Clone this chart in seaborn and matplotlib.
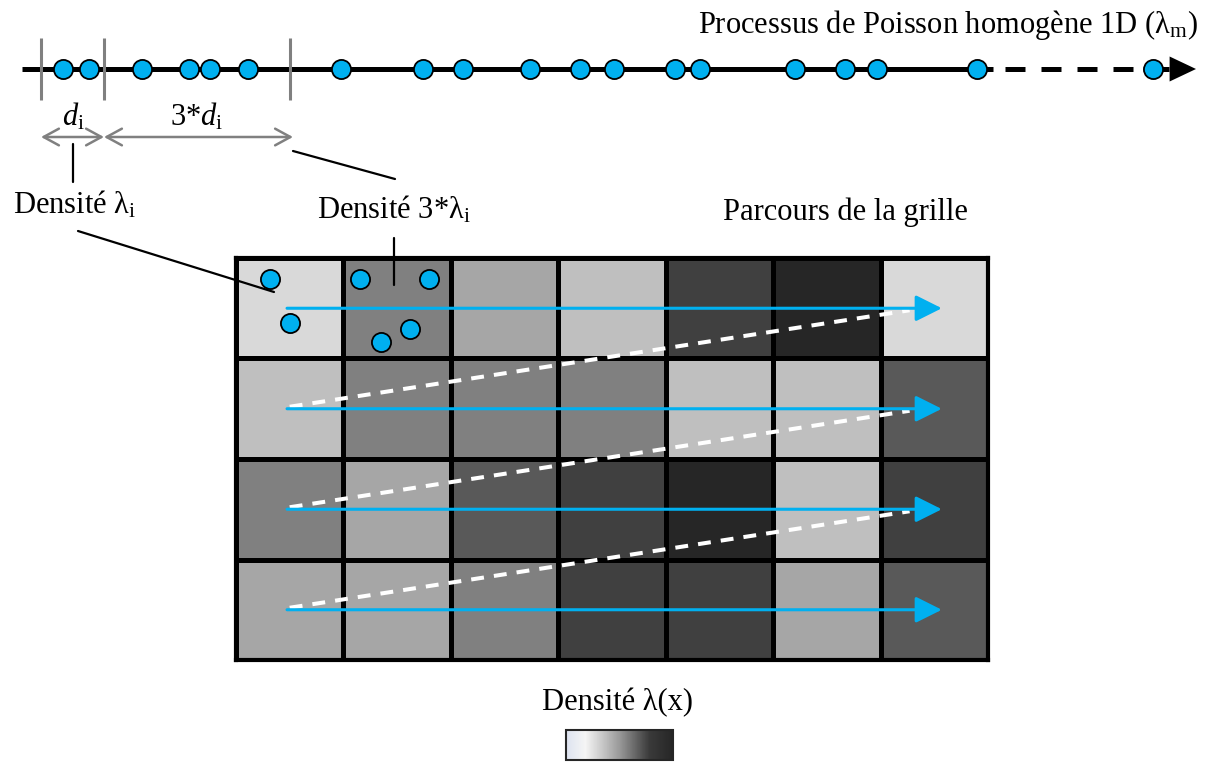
import pandas as pd
import matplotlib.pyplot as plt
import matplotlib.colors as mcolors
import matplotlib.cm as cm
import seaborn as sns

# grey level of every cell of the grid (0 = black, 255 = white), row by row
row_0 = [217, 128, 166, 191, 64, 38, 217]
row_1 = [191, 128, 128, 128, 191, 191, 89]
row_2 = [128, 166, 89, 64, 38, 191, 64]
row_3 = [166, 166, 128, 64, 64, 166, 89]

# events of the homogeneous 1D Poisson process (position along the line, px)
events_x = [63, 89, 142, 189, 210, 248, 341, 423, 463, 530, 580, 614,
            675, 700, 795, 845, 877, 977, 1153]
# limits of the segments d_i and 3*d_i
bounds_x = [41, 104, 290]

# points placed in the first two cells (column / row, in cell units)
pts_col = [0.32, 0.50, 1.15, 1.80, 1.62, 1.35]
pts_row = [0.21, 0.65, 0.21, 0.21, 0.71, 0.84]

BLUE = '#00B0F0'
GREY = '#808080'

sns.set_theme(style='white')
plt.rcParams['font.family'] = ['Liberation Serif', 'DejaVu Serif']
plt.rcParams['text.color'] = 'black'
plt.rcParams['mathtext.fontset'] = 'custom'
plt.rcParams['mathtext.rm'] = 'Liberation Serif'
plt.rcParams['mathtext.it'] = 'Liberation Serif:italic'

W, H = 1207, 763
fig = plt.figure(figsize=(W / 100, H / 100), dpi=100)

# grid of densities
hax = fig.add_axes([236 / W, 1 - 660 / H, 752 / W, 402 / H])
hax.set_zorder(1)
grid = pd.DataFrame([row_0, row_1, row_2, row_3])
sns.heatmap(grid, ax=hax, cmap='gray', vmin=0, vmax=255, cbar=False,
            linewidths=2.2, linecolor='black',
            xticklabels=False, yticklabels=False)
for sp in hax.spines.values():
    sp.set_visible(True)
    sp.set_color('black')
    sp.set_linewidth(3)

# path through the grid
n_rows, n_cols = grid.shape
for r in range(n_rows):
    hax.annotate('', xy=(6.57, r + 0.5), xytext=(0.475, r + 0.5),
                 arrowprops=dict(arrowstyle='-|>,head_length=1.6,head_width=0.8',
                                 color=BLUE, lw=2.2, shrinkA=0, shrinkB=0,
                                 mutation_scale=10))
for r in range(n_rows - 1):
    hax.plot([0.5, 6.27], [r + 1.48, r + 0.52], color='white', lw=2.9,
             dashes=(3.2, 2.5), solid_capstyle='butt')

sns.scatterplot(x=pts_col, y=pts_row, ax=hax, s=190, color=BLUE,
                edgecolor='black', linewidth=1.3, zorder=4, clip_on=False)
hax.set_xlim(0, n_cols)
hax.set_ylim(n_rows, 0)

# overlay in pixel coordinates
ax = fig.add_axes([0, 0, 1, 1])
ax.set_zorder(2)
ax.set_xlim(0, W)
ax.set_ylim(H, 0)
ax.axis('off')
ax.patch.set_alpha(0)

line_y = 69
ax.plot([22, 993], [line_y, line_y], color='black', lw=3.6,
        solid_capstyle='butt', zorder=2)
ax.plot([1005, 1169], [line_y, line_y], color='black', lw=3.6,
        dashes=(4, 3.2), zorder=2)
ax.annotate('', xy=(1196, line_y), xytext=(1169, line_y),
            arrowprops=dict(arrowstyle='-|>,head_length=1.9,head_width=0.9',
                            color='black', lw=0, shrinkA=0, shrinkB=0,
                            mutation_scale=10))
ax.vlines(bounds_x, 38, 100, color=GREY, lw=2.2, zorder=3)
sns.scatterplot(x=events_x, y=[line_y] * len(events_x), ax=ax, s=190,
                color=BLUE, edgecolor='black', linewidth=1.3, zorder=4)

# segment lengths
for x0, x1 in [(bounds_x[0], bounds_x[1]), (bounds_x[1], bounds_x[2] + 3)]:
    ax.annotate('', xy=(x1, 137), xytext=(x0, 137),
                arrowprops=dict(arrowstyle='<->,head_length=1.1,head_width=0.6',
                                color=GREY, lw=1.8, shrinkA=0, shrinkB=0,
                                mutation_scale=10))

fs = 22
ax.text(73, 117, r'$d_\mathrm{i}$', fontsize=fs, ha='center', va='center')
ax.text(197, 117, r'3*$d_\mathrm{i}$', fontsize=fs, ha='center', va='center')
ax.text(75, 205, r'Densité $\mathrm{\lambda}_\mathrm{i}$', fontsize=fs,
        ha='center', va='center')
ax.text(394, 210, r'Densité 3*$\mathrm{\lambda}_\mathrm{i}$', fontsize=fs,
        ha='center', va='center')
ax.text(845, 212, 'Parcours de la grille', fontsize=fs, ha='center', va='center')
ax.text(1198, 25, r'Processus de Poisson homogène 1D ($\mathrm{\lambda}_\mathrm{m}$)',
        fontsize=fs, ha='right', va='center')
ax.text(617, 703, 'Densité λ(x)', fontsize=fs, ha='center', va='center')

# leader lines
ax.plot([73, 73], [144, 182], color='black', lw=1.6)
ax.plot([293, 395], [151, 179], color='black', lw=1.6)
ax.plot([78, 274], [231, 292], color='black', lw=1.6)
ax.plot([394, 394], [238, 285], color='black', lw=1.6)

# density scale
cmap = mcolors.LinearSegmentedColormap.from_list(
    'dens', [(0, '#dde3f0'), (0.18, '#f5f5f5'), (0.5, '#999999'),
             (0.78, '#3a3a3a'), (1, '#262626')])
cax = fig.add_axes([566 / W, 1 - 760 / H, 107 / W, 30 / H])
cb = fig.colorbar(cm.ScalarMappable(cmap=cmap), cax=cax, orientation='horizontal')
cb.set_ticks([])
cb.outline.set_linewidth(1.5)

fig.savefig('out.png', dpi=100)
